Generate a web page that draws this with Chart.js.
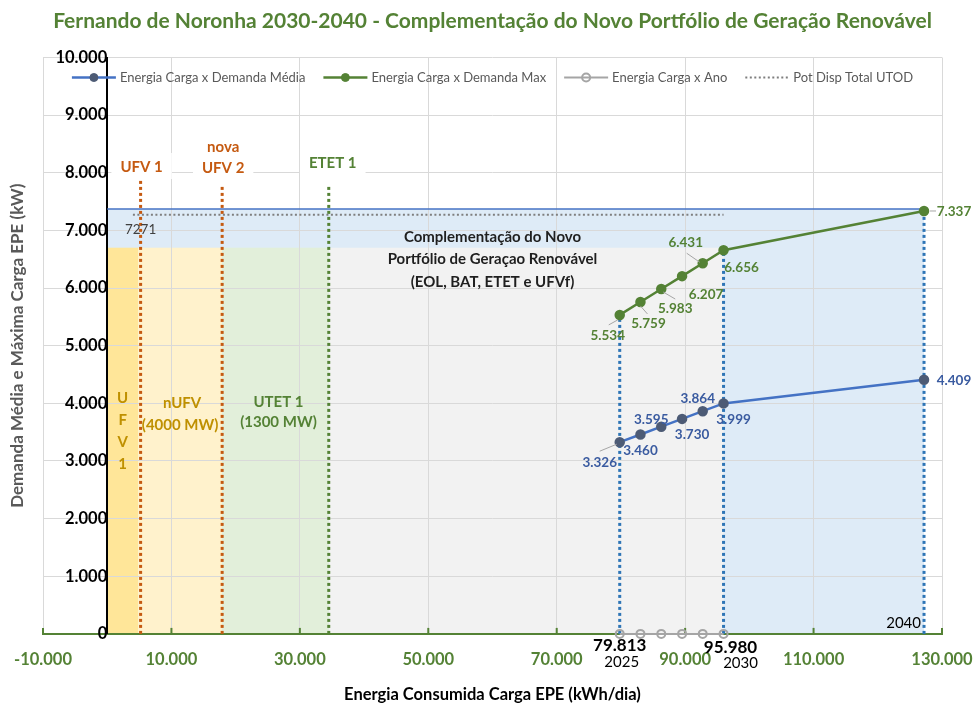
<!DOCTYPE html>
<html lang="pt-BR">
<head>
<meta charset="utf-8">
<title>Fernando de Noronha 2030-2040</title>
<script src="https://cdn.jsdelivr.net/npm/chart.js@4.4.1/dist/chart.umd.min.js"></script>
<style>
  html, body { margin: 0; padding: 0; background: #fff; }
  #grafico { display: block; }
</style>
</head>
<body>
<canvas id="grafico" width="976" height="705"></canvas>
<script>
// Valores
const anos = ["2025", "2026", "2027", "2028", "2029", "2030", "2040"];
const energiaCarga = [79813, 83040, 86280, 89520, 92736, 95980, 127200];
const demandaMedia = [3326, 3460, 3595, 3730, 3864, 3999, 4409];
const demandaMax = [5534, 5759, 5983, 6207, 6431, 6656, 7337];

const potDispTotal = 7271;
const potDispInicio = 4000;
const potDispFim = 95980;

const usinaNomes = [["UFV 1"], ["nova", "UFV 2"], ["ETET 1"]];
const usinaEnergia = [5200, 17900, 34500];
const usinaTopo = [7900, 7780, 7800];

const regiaoNomes = ["Complementação", "Carga", "UFV 1", "nUFV", "UTET 1"];
const regiaoInicio = [0, 34500, 0, 4800, 17900];
const regiaoFim = [127200, 95980, 4800, 17900, 34500];
const regiaoTopo = [7370, 6700, 6700, 6700, 6700];

const ticksX = [-10000, 10000, 30000, 50000, 70000, 90000, 110000, 130000];
const ticksY = [0, 1000, 2000, 3000, 4000, 5000, 6000, 7000, 8000, 9000, 10000];

const FONTE = "Lato, 'Open Sans', sans-serif";
const VERDE = "#548235";
const LARANJA = "#C55A11";
const OURO = "#BF9000";

const formatar = v => (v < 0 ? "-" : "") + String(Math.abs(v)).replace(/\B(?=(\d{3})+(?!\d))/g, ".");

const pontos = (xs, ys) => xs.map((x, i) => ({ x: x, y: ys[i] }));

// linhas verticais pontilhadas dos anos 2025, 2030 e 2040
const indicesMarco = [0, 5, 6];
const linhasAno = indicesMarco.map(i => ({
    label: "marco " + anos[i],
    data: [{ x: energiaCarga[i], y: 0 }, { x: energiaCarga[i], y: demandaMax[i] }],
    borderColor: "#2E75B6",
    borderWidth: 3,
    borderDash: [3, 3],
    pointRadius: 0,
    clip: false
}));

const linhasUsina = usinaEnergia.map((e, i) => ({
    label: usinaNomes[i].join(" "),
    data: [{ x: e, y: 0 }, { x: e, y: usinaTopo[i] }],
    borderColor: i === 2 ? VERDE : LARANJA,
    borderWidth: 3,
    borderDash: [3, 3],
    pointRadius: 0,
    clip: false
}));

const datasets = [
    {
        label: "Energia Carga x Demanda Média",
        data: pontos(energiaCarga, demandaMedia),
        borderColor: "#4472C4",
        borderWidth: 2.5,
        pointRadius: 4,
        pointBackgroundColor: "#4D5B75",
        pointBorderColor: "#4D5B75",
        clip: false
    },
    {
        label: "Energia Carga x Demanda Max",
        data: pontos(energiaCarga, demandaMax),
        borderColor: VERDE,
        borderWidth: 2.5,
        pointRadius: 4,
        pointBackgroundColor: VERDE,
        pointBorderColor: VERDE,
        clip: false
    },
    {
        label: "Energia Carga x Ano",
        data: energiaCarga.slice(0, 6).map(x => ({ x: x, y: 0 })),
        borderColor: "#A5A5A5",
        borderWidth: 2,
        pointRadius: 4,
        pointBorderWidth: 2,
        pointBackgroundColor: "rgba(255,255,255,0)",
        pointBorderColor: "#A5A5A5",
        clip: false
    },
    {
        label: "Pot Disp Total UTOD",
        data: [{ x: potDispInicio, y: potDispTotal }, { x: potDispFim, y: potDispTotal }],
        borderColor: "#7F7F7F",
        borderWidth: 2,
        borderDash: [2, 2.5],
        pointRadius: 0,
        clip: false
    },
    ...linhasAno,
    ...linhasUsina
];

// Faixas coloridas de fundo
const fundo = {
    id: "fundo",
    beforeDraw(chart) {
        const { ctx, scales: { x, y } } = chart;
        const cores = ["#DEEBF7", "#F2F2F2", "#FFE699", "#FFF2CC", "#E2EFDA"];

        ctx.save();
        regiaoInicio.forEach((ini, i) => {
            const x0 = x.getPixelForValue(ini);
            const x1 = x.getPixelForValue(regiaoFim[i]);
            const y0 = y.getPixelForValue(regiaoTopo[i]);
            const y1 = y.getPixelForValue(0);
            ctx.fillStyle = cores[i];
            ctx.fillRect(x0, y0, x1 - x0, y1 - y0);
        });
        ctx.restore();
    },
    beforeDatasetsDraw(chart) {
        const { ctx, scales: { x, y } } = chart;
        const yTopo = y.getPixelForValue(regiaoTopo[0]);

        ctx.save();
        ctx.strokeStyle = "#4472C4";
        ctx.lineWidth = 1.5;
        ctx.beginPath();
        ctx.moveTo(x.getPixelForValue(regiaoInicio[0]), yTopo);
        ctx.lineTo(x.getPixelForValue(regiaoFim[0]), yTopo);
        ctx.stroke();

        // marcas do eixo X para cima
        ctx.strokeStyle = VERDE;
        ctx.lineWidth = 2;
        const y0 = y.getPixelForValue(0);
        ticksX.forEach(v => {
            const px = x.getPixelForValue(v);
            ctx.beginPath();
            ctx.moveTo(px, y0);
            ctx.lineTo(px, y0 - 6);
            ctx.stroke();
        });
        ctx.restore();
    }
};

function escrever(ctx, txt, px, py, fonte, cor, alinhar) {
    ctx.font = fonte;
    ctx.fillStyle = cor;
    ctx.textAlign = alinhar || "center";
    ctx.textBaseline = "middle";
    ctx.fillText(txt, px, py);
}

// Rótulos de dados e textos dentro da área do gráfico
const rotulos = {
    id: "rotulos",
    afterDatasetsDraw(chart) {
        const { ctx, scales: { x, y } } = chart;
        const fonteDado = "bold 13.5px " + FONTE;

        // deslocamentos [dx, dy] do centro do rótulo em relação ao ponto
        const desvioMedia = [[-20, 20], [0, 16], [-10, -7], [10, 16], [-5, -13], [10, 16], [30, 1]];
        const desvioMax = [[-12, 21], [8, 22], [14, 20], [24, 19], [-17, -21], [18, 17], [30, 1]];
        const guiaMedia = { 0: [-3, 2, -20, 9] };
        const guiaMax = { 0: [-2, 5, -11, 10], 1: [0, 4, 7, 12], 2: [2, 3, 14, 10], 4: [-3, -1, -16, -10], 6: [6, 0, 12, 0] };

        ctx.save();
        const serie = (idx, valores, desvios, guias, cor) => {
            chart.getDatasetMeta(idx).data.forEach((p, j) => {
                const g = guias[j];
                if (g) {
                    ctx.strokeStyle = "#A6A6A6";
                    ctx.lineWidth = 1;
                    ctx.beginPath();
                    ctx.moveTo(p.x + g[0], p.y + g[1]);
                    ctx.lineTo(p.x + g[2], p.y + g[3]);
                    ctx.stroke();
                }
                escrever(ctx, formatar(valores[j]), p.x + desvios[j][0], p.y + desvios[j][1], fonteDado, cor);
            });
        };
        serie(0, demandaMedia, desvioMedia, guiaMedia, "#3A5BA0");
        serie(1, demandaMax, desvioMax, guiaMax, VERDE);

        // rótulos da série de anos
        const anoPts = chart.getDatasetMeta(2).data;
        const primeiro = anoPts[0], ultimo = anoPts[anoPts.length - 1];
        escrever(ctx, formatar(energiaCarga[0]), primeiro.x, primeiro.y + 12, "bold 17px " + FONTE, "#000");
        escrever(ctx, anos[0], primeiro.x + 2, primeiro.y + 28, "15px " + FONTE, "#000");
        escrever(ctx, formatar(energiaCarga[5]), ultimo.x + 7, ultimo.y + 14, "bold 17px " + FONTE, "#000");
        escrever(ctx, anos[5], ultimo.x + 17, ultimo.y + 29, "15px " + FONTE, "#000");
        escrever(ctx, anos[6], x.getPixelForValue(energiaCarga[6]) - 3, y.getPixelForValue(0) - 11, "15px " + FONTE, "#000", "right");

        // valor da potência disponível
        escrever(ctx, String(potDispTotal), x.getPixelForValue(potDispInicio) - 8, y.getPixelForValue(potDispTotal) + 15,
            "13.5px " + FONTE, "#404040", "left");

        // nomes das usinas com fundo branco
        const fonteUsina = "bold 15px " + FONTE;
        const yLinha = [[167], [147, 168], [163]];
        usinaNomes.forEach((linhas, i) => {
            const px = x.getPixelForValue(usinaEnergia[i]) + (i === 2 ? 4 : 1);
            ctx.font = fonteUsina;
            const larg = Math.max(...linhas.map(t => ctx.measureText(t).width)) + 18;
            const topo = yLinha[i][0] - 14;
            const base = yLinha[i][linhas.length - 1] + 12;
            ctx.fillStyle = "#fff";
            ctx.fillRect(px - larg / 2, topo, larg, base - topo);
            linhas.forEach((t, k) => escrever(ctx, t, px, yLinha[i][k], fonteUsina, i === 2 ? VERDE : LARANJA));
        });

        // textos das faixas
        const fonteFaixa = "bold 15px " + FONTE;
        const centro = i => (x.getPixelForValue(regiaoInicio[i]) + x.getPixelForValue(regiaoFim[i])) / 2;
        const y4000 = y.getPixelForValue(4000);
        ["U", "F", "V", "1"].forEach((t, k) => escrever(ctx, t, centro(2), y4000 - 5 + k * 22, fonteFaixa, OURO));
        escrever(ctx, regiaoNomes[3], centro(3) + 2, y4000, fonteFaixa, OURO);
        escrever(ctx, "(4000 MW)", centro(3), y4000 + 22, fonteFaixa, OURO);
        escrever(ctx, regiaoNomes[4], centro(4) + 3, y4000 - 1, fonteFaixa, VERDE);
        escrever(ctx, "(1300 MW)", centro(4) + 3, y4000 + 19, fonteFaixa, VERDE);

        const xc = x.getPixelForValue(60000);
        ["Complementação do Novo", "Portfólio de Geraçao Renovável", "(EOL, BAT, ETET e UFVf)"].forEach((t, k) =>
            escrever(ctx, t, xc, 237 + k * 22.5, "bold 15px " + FONTE, "#1F1F1F"));
        ctx.restore();
    },
    afterDraw(chart) {
        const { ctx, chartArea } = chart;
        ctx.save();

        // título do eixo Y
        ctx.translate(18, (chartArea.top + chartArea.bottom) / 2);
        ctx.rotate(-Math.PI / 2);
        escrever(ctx, "Demanda Média e Máxima Carga EPE (kW)", 0, 0, "bold 17px " + FONTE, "#595959");
        ctx.restore();

        // legenda desenhada sobre a área do gráfico
        ctx.save();
        const itens = chart.data.datasets.slice(0, 4);
        const fonteLeg = "13px " + FONTE;
        ctx.font = fonteLeg;
        const amostra = 44, folga = 4, espaco = 18;
        const largs = itens.map(d => amostra + folga + ctx.measureText(d.label).width);
        const total = largs.reduce((a, b) => a + b, 0) + espaco * (itens.length - 1);
        let cx = (chartArea.left + chartArea.right) / 2 - total / 2;
        const ly = chartArea.top + 20;
        itens.forEach((d, i) => {
            ctx.strokeStyle = d.borderColor;
            ctx.lineWidth = d.borderWidth;
            ctx.setLineDash(d.borderDash || []);
            ctx.beginPath();
            ctx.moveTo(cx, ly);
            ctx.lineTo(cx + amostra, ly);
            ctx.stroke();
            ctx.setLineDash([]);
            if (d.pointRadius) {
                ctx.beginPath();
                ctx.arc(cx + amostra / 2, ly, d.pointRadius, 0, Math.PI * 2);
                ctx.fillStyle = d.pointBackgroundColor;
                ctx.fill();
                ctx.strokeStyle = d.pointBorderColor;
                ctx.lineWidth = d.pointBorderWidth || 1;
                ctx.stroke();
            }
            escrever(ctx, d.label, cx + amostra + folga, ly, fonteLeg, "#595959", "left");
            cx += largs[i] + espaco;
        });
        ctx.restore();
    }
};

new Chart(document.getElementById("grafico"), {
    type: "line",
    data: { datasets: datasets },
    plugins: [fundo, rotulos],
    options: {
        responsive: false,
        animation: false,
        devicePixelRatio: 1,
        elements: { line: { tension: 0 } },
        layout: {
            padding: { left: 43, right: 34, top: 0, bottom: 0.5 }
        },
        plugins: {
            legend: { display: false },
            tooltip: { enabled: false },
            title: {
                display: true,
                text: "Fernando de Noronha 2030-2040 - Complementação do Novo Portfólio de Geração Renovável",
                color: VERDE,
                font: { family: FONTE, size: 21, weight: "bold" },
                padding: { top: 9, bottom: 23.3 }
            }
        },
        scales: {
            x: {
                type: "linear",
                min: ticksX[0],
                max: ticksX[ticksX.length - 1],
                afterBuildTicks: s => { s.ticks = ticksX.map(v => ({ value: v })); },
                ticks: {
                    color: VERDE,
                    font: { family: FONTE, size: 16.5, weight: "bold" },
                    padding: 0,
                    maxRotation: 0,
                    callback: v => formatar(v)
                },
                grid: { color: "#D9D9D9", drawTicks: true, tickLength: 16, tickColor: "rgba(0,0,0,0)" },
                border: { color: VERDE, width: 2 },
                title: {
                    display: true,
                    text: "Energia Consumida Carga EPE (kWh/dia)",
                    color: "#000",
                    font: { family: FONTE, size: 16.5, weight: "bold" },
                    padding: { top: 15, bottom: 0 }
                }
            },
            y: {
                type: "linear",
                position: { x: 0 },
                min: ticksY[0],
                max: ticksY[ticksY.length - 1],
                afterBuildTicks: s => { s.ticks = ticksY.map(v => ({ value: v })); },
                ticks: {
                    color: "#000",
                    font: { family: FONTE, size: 16.5, weight: "bold" },
                    padding: 17,
                    callback: v => formatar(v)
                },
                grid: { color: "#D9D9D9", drawTicks: false },
                border: { color: "#000", width: 2 }
            }
        }
    }
});
</script>
</body>
</html>
